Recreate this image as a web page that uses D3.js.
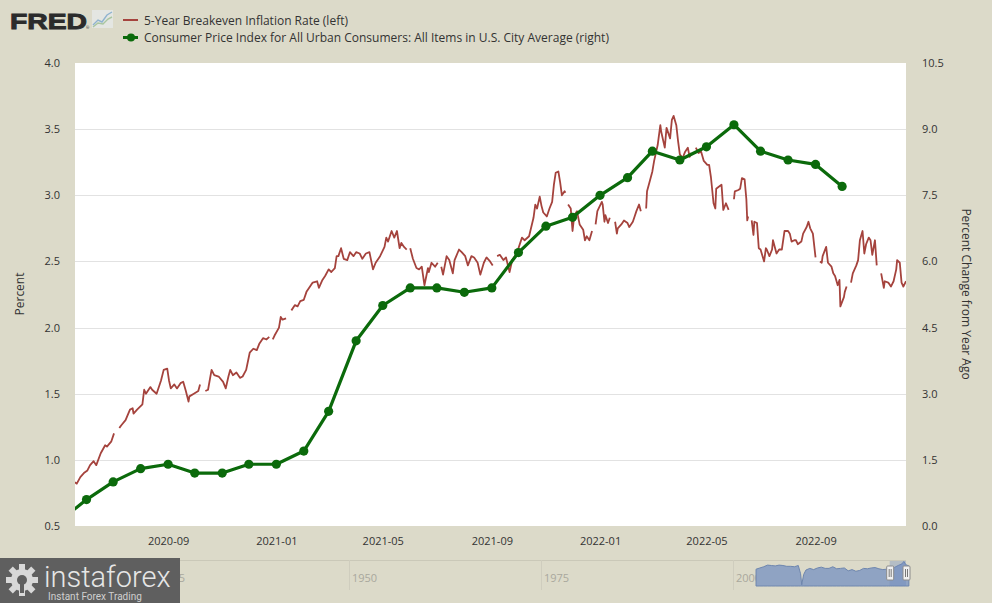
<!DOCTYPE html>
<html><head><meta charset="utf-8">
<script src="https://cdn.jsdelivr.net/npm/d3@7"></script>
<style>
html,body{margin:0;padding:0;background:#dcdac9;}
svg{display:block;font-family:"Open Sans","DejaVu Sans",sans-serif;}
</style></head><body>
<svg id="chart" width="992" height="603"></svg>
<script>
// ---------------- DATA ----------------
const cpiDates = ["2020-05-01","2020-06-01","2020-07-01","2020-08-01","2020-09-01","2020-10-01","2020-11-01","2020-12-01",
  "2021-01-01","2021-02-01","2021-03-01","2021-04-01","2021-05-01","2021-06-01","2021-07-01","2021-08-01","2021-09-01","2021-10-01","2021-11-01","2021-12-01",
  "2022-01-01","2022-02-01","2022-03-01","2022-04-01","2022-05-01","2022-06-01","2022-07-01","2022-08-01","2022-09-01","2022-10-01"];
const cpiValues = [0.1,0.6,1.0,1.3,1.4,1.2,1.2,1.4,
  1.4,1.7,2.6,4.2,5.0,5.4,5.4,5.3,5.4,6.2,6.8,7.0,
  7.5,7.9,8.5,8.3,8.6,9.1,8.5,8.3,8.2,7.7];

const breakevenSeries = [
["2020-05-19",0.83],["2020-05-21",0.82],["2020-05-25",0.87],["2020-05-29",0.90],
["2020-06-02",0.92],["2020-06-05",0.96],["2020-06-09",0.99],["2020-06-12",0.96],["2020-06-17",1.05],["2020-06-22",1.11],["2020-06-24",1.10],["2020-06-29",1.14],
["2020-07-02",1.20],["2020-07-03",null],["2020-07-08",1.24],["2020-07-10",1.26],["2020-07-15",1.30],["2020-07-20",1.38],["2020-07-23",1.39],["2020-07-24",1.35],["2020-07-28",1.38],
["2020-08-03",1.42],["2020-08-05",1.53],["2020-08-07",1.50],["2020-08-12",1.55],["2020-08-14",1.53],["2020-08-19",1.50],["2020-08-24",1.60],["2020-08-27",1.68],["2020-08-31",1.69],
["2020-09-02",1.60],["2020-09-04",1.54],["2020-09-08",1.57],["2020-09-11",1.54],["2020-09-15",1.58],["2020-09-18",1.59],["2020-09-21",1.52],["2020-09-24",1.44],["2020-09-25",1.48],["2020-09-30",1.50],
["2020-10-05",1.52],["2020-10-07",1.57],["2020-10-12",null],["2020-10-13",1.52],["2020-10-16",1.53],["2020-10-20",1.68],["2020-10-23",1.64],["2020-10-28",1.63],
["2020-11-02",1.59],["2020-11-05",1.54],["2020-11-08",1.63],["2020-11-10",1.68],["2020-11-13",1.64],["2020-11-17",1.66],["2020-11-21",1.62],["2020-11-24",1.63],["2020-11-28",1.68],
["2020-12-02",1.81],["2020-12-06",1.84],["2020-12-10",1.83],["2020-12-13",1.88],["2020-12-17",1.92],["2020-12-21",1.91],["2020-12-24",1.93],["2020-12-25",null],["2020-12-28",1.91],["2020-12-30",1.94],
["2021-01-04",2.00],["2021-01-06",2.08],["2021-01-08",2.06],["2021-01-12",2.07],["2021-01-15",null],["2021-01-18",2.13],["2021-01-22",2.17],["2021-01-25",2.16],["2021-01-28",2.20],
["2021-02-01",2.21],["2021-02-04",2.27],["2021-02-08",2.31],["2021-02-11",2.34],["2021-02-16",2.35],["2021-02-18",2.30],["2021-02-22",2.36],["2021-02-25",2.39],
["2021-03-01",2.44],["2021-03-04",2.42],["2021-03-08",2.45],["2021-03-10",2.54],["2021-03-12",2.54],["2021-03-15",2.60],["2021-03-18",2.52],["2021-03-22",2.51],["2021-03-25",2.57],["2021-03-29",2.54],
["2021-04-01",2.57],["2021-04-05",2.56],["2021-04-08",2.52],["2021-04-12",2.56],["2021-04-16",2.57],["2021-04-20",2.44],["2021-04-23",2.49],["2021-04-28",2.54],
["2021-05-03",2.61],["2021-05-05",2.68],["2021-05-07",2.65],["2021-05-11",2.73],["2021-05-14",2.68],["2021-05-17",2.73],["2021-05-20",2.60],["2021-05-22",2.64],["2021-05-25",2.61],["2021-05-28",2.59],["2021-05-31",null],
["2021-06-01",2.60],["2021-06-04",2.52],["2021-06-08",2.45],["2021-06-11",2.44],["2021-06-14",2.46],["2021-06-17",2.32],["2021-06-21",2.45],["2021-06-22",2.42],["2021-06-25",2.49],["2021-06-29",2.46],
["2021-07-02",2.49],["2021-07-05",null],["2021-07-06",2.46],["2021-07-08",2.40],["2021-07-12",2.54],["2021-07-15",2.51],["2021-07-19",2.41],["2021-07-21",2.51],["2021-07-26",2.59],["2021-07-29",2.57],
["2021-08-02",2.54],["2021-08-05",2.47],["2021-08-09",2.54],["2021-08-12",2.53],["2021-08-16",2.49],["2021-08-19",2.40],["2021-08-23",2.49],["2021-08-26",2.53],["2021-08-30",2.50],
["2021-09-02",2.47],["2021-09-06",null],["2021-09-07",2.54],["2021-09-10",2.55],["2021-09-14",2.51],["2021-09-17",2.53],["2021-09-21",2.42],["2021-09-24",2.51],["2021-09-29",2.56],
["2021-10-01",2.60],["2021-10-05",2.68],["2021-10-08",2.66],["2021-10-13",2.69],["2021-10-18",2.83],["2021-10-20",2.93],["2021-10-22",2.90],["2021-10-25",2.99],["2021-10-27",2.92],["2021-10-29",2.87],
["2021-11-02",2.84],["2021-11-05",2.90],["2021-11-08",2.95],["2021-11-10",3.08],["2021-11-12",3.17],["2021-11-15",3.18],["2021-11-17",3.10],["2021-11-19",3.00],["2021-11-22",3.03],["2021-11-23",3.02],["2021-11-25",null],["2021-11-26",2.93],["2021-11-29",2.90],
["2021-12-01",2.73],["2021-12-03",2.85],["2021-12-06",2.88],["2021-12-09",2.78],["2021-12-13",2.74],["2021-12-15",2.66],["2021-12-17",2.69],["2021-12-20",2.66],["2021-12-23",2.73],["2021-12-24",null],["2021-12-27",2.78],["2021-12-29",2.88],
["2022-01-03",2.95],["2022-01-04",2.93],["2022-01-06",2.80],["2022-01-07",2.85],["2022-01-10",2.79],["2022-01-12",2.83],["2022-01-17",null],["2022-01-18",2.80],["2022-01-20",2.71],["2022-01-21",2.75],["2022-01-25",2.78],["2022-01-28",2.81],
["2022-02-01",2.79],["2022-02-03",2.76],["2022-02-07",2.80],["2022-02-09",2.84],["2022-02-11",2.88],["2022-02-14",2.93],["2022-02-16",2.88],["2022-02-21",null],["2022-02-22",2.90],["2022-02-23",3.03],["2022-02-25",3.08],
["2022-03-01",3.18],["2022-03-03",3.26],["2022-03-07",3.38],["2022-03-08",3.43],["2022-03-10",3.53],["2022-03-11",3.48],["2022-03-15",3.36],["2022-03-17",3.51],["2022-03-21",3.43],["2022-03-23",3.57],["2022-03-25",3.60],["2022-03-28",3.53],["2022-03-30",3.41],
["2022-04-01",3.31],["2022-04-04",3.28],["2022-04-07",3.33],["2022-04-10",3.36],["2022-04-12",3.29],["2022-04-14",3.32],["2022-04-15",null],["2022-04-19",3.36],["2022-04-22",3.32],["2022-04-25",3.33],["2022-04-28",3.26],
["2022-05-02",3.23],["2022-05-04",3.23],["2022-05-06",3.14],["2022-05-09",2.94],["2022-05-11",2.90],["2022-05-12",3.05],["2022-05-16",3.07],["2022-05-18",3.08],["2022-05-20",2.89],["2022-05-23",2.94],["2022-05-26",2.89],["2022-05-30",null],
["2022-06-01",2.97],["2022-06-02",3.03],["2022-06-06",3.04],["2022-06-08",3.05],["2022-06-10",3.13],["2022-06-13",3.12],["2022-06-15",2.97],["2022-06-16",2.81],["2022-06-17",2.84],["2022-06-20",null],["2022-06-21",2.81],["2022-06-23",2.70],["2022-06-24",2.80],["2022-06-27",2.79],["2022-06-29",2.60],
["2022-07-01",2.59],["2022-07-05",2.50],["2022-07-07",2.60],["2022-07-08",2.59],["2022-07-11",2.54],["2022-07-14",2.59],["2022-07-15",2.66],["2022-07-19",2.56],["2022-07-22",2.59],["2022-07-25",2.59],["2022-07-28",2.73],
["2022-08-01",2.73],["2022-08-03",2.71],["2022-08-05",2.65],["2022-08-08",2.66],["2022-08-10",2.66],["2022-08-12",2.63],["2022-08-16",2.65],["2022-08-18",2.71],["2022-08-22",2.76],["2022-08-24",2.80],["2022-08-26",2.75],["2022-08-29",2.71],
["2022-09-01",2.53],["2022-09-05",null],["2022-09-06",2.50],["2022-09-08",2.49],["2022-09-09",2.54],["2022-09-13",2.61],["2022-09-15",2.49],["2022-09-19",2.46],["2022-09-21",2.41],["2022-09-23",2.39],["2022-09-26",2.32],["2022-09-28",2.36],["2022-09-29",2.16],
["2022-10-03",2.23],["2022-10-04",2.27],["2022-10-06",2.31],["2022-10-10",null],["2022-10-11",2.34],["2022-10-13",2.41],["2022-10-17",2.47],["2022-10-19",2.51],["2022-10-21",2.66],["2022-10-24",2.73],["2022-10-26",2.56],["2022-10-28",2.63],["2022-10-31",2.68],
["2022-11-02",2.66],["2022-11-04",2.55],["2022-11-07",2.66],["2022-11-09",2.47],["2022-11-11",null],["2022-11-14",2.41],["2022-11-17",2.30],["2022-11-18",2.35],["2022-11-22",2.34],["2022-11-25",2.31],["2022-11-28",2.35],
["2022-12-01",2.44],["2022-12-02",2.51],["2022-12-05",2.49],["2022-12-07",2.34],["2022-12-09",2.31],["2022-12-12",2.35]
];

const leftTicks = [0.5,1.0,1.5,2.0,2.5,3.0,3.5,4.0];
const rightTicks = [0.0,1.5,3.0,4.5,6.0,7.5,9.0,10.5];
const xTickDates = ["2020-09-01","2021-01-01","2021-05-01","2021-09-01","2022-01-01","2022-05-01","2022-09-01"];
const legendLabels = ["5-Year Breakeven Inflation Rate (left)",
  "Consumer Price Index for All Urban Consumers: All Items in U.S. City Average (right)"];
const leftTitle = "Percent";
const rightTitle = "Percent Change from Year Ago";
const navLabels = [1925,1950,1975,2000];
const navYears  = [2003.0,2003.5,2004.0,2004.5,2005.0,2005.5,2006.0,2006.5,2007.0,2007.5,2008.0,2008.5,2008.8,2008.95,2009.2,2009.5,2010.0,2010.5,2011.0,2011.5,2012.0,2012.5,2013.0,2013.5,2014.0,2014.5,2015.0,2015.5,2016.0,2016.5,2017.0,2017.5,2018.0,2018.5,2019.0,2019.5,2020.0,2020.25,2020.5,2020.75,2021.0,2021.5,2022.0,2022.25,2022.5,2022.9];
const navValues = [1.6,1.9,2.2,2.6,2.5,2.4,2.6,2.5,2.3,2.3,2.2,2.5,0.5,-2.2,0.3,1.4,1.8,1.5,1.9,2.1,1.8,1.8,2.2,1.7,1.8,1.9,1.2,1.5,1.1,1.3,1.8,1.7,1.9,2.0,1.7,1.5,1.6,0.2,1.2,1.6,2.0,2.5,2.9,3.5,2.7,2.4];

// ---------------- LAYOUT ----------------
const BG = "#dcdac9", RED = "#a5433d", GREEN = "#0b6a0b", TXT = "#333";
const P = {l:75, r:906, t:63, b:526};
const parse = d3.timeParse("%Y-%m-%d");
const svg = d3.select("#chart");

svg.append("rect").attr("width",992).attr("height",603).attr("fill",BG);

const x = d3.scaleTime().domain([parse("2020-05-19"), parse("2022-12-12")]).range([P.l,P.r]);
const yL = d3.scaleLinear().domain([0.5,4.0]).range([P.b,P.t]);
const yR = d3.scaleLinear().domain([0,10.5]).range([P.b,P.t]);

svg.append("rect").attr("x",P.l).attr("y",P.t).attr("width",P.r-P.l).attr("height",P.b-P.t).attr("fill","#fff");

svg.append("defs").append("clipPath").attr("id","clipx")
  .append("rect").attr("x",P.l).attr("y",P.t).attr("width",P.r-P.l).attr("height",P.b-P.t);

// gridlines
svg.append("g").selectAll("line").data(leftTicks.slice(1,-1)).join("line")
  .attr("x1",P.l).attr("x2",P.r).attr("y1",d=>Math.round(yL(d))+0.5).attr("y2",d=>Math.round(yL(d))+0.5)
  .attr("stroke","#e2e2e2").attr("stroke-width",1);

// axes
const axL = svg.append("g").attr("transform",`translate(${P.l},0)`)
  .call(d3.axisLeft(yL).tickValues(leftTicks).tickFormat(d3.format(".1f")).tickSize(0).tickPadding(15));
const axR = svg.append("g").attr("transform",`translate(${P.r},0)`)
  .call(d3.axisRight(yR).tickValues(rightTicks).tickFormat(d3.format(".1f")).tickSize(0).tickPadding(16));
const axB = svg.append("g").attr("transform",`translate(0,${P.b})`)
  .call(d3.axisBottom(x).tickValues(xTickDates.map(parse)).tickFormat(d3.timeFormat("%Y-%m")).tickSize(0).tickPadding(11));
[axL,axR,axB].forEach(a=>{
  a.select(".domain").remove();
  a.selectAll("text").attr("fill",TXT).style("font-size","11px").style("font-family",'"Open Sans","DejaVu Sans",sans-serif');
});

svg.append("text").attr("transform","translate(24,294) rotate(-90)").attr("text-anchor","middle")
  .attr("fill",TXT).style("font-size","12px").text(leftTitle);
svg.append("text").attr("transform","translate(962,294) rotate(90)").attr("text-anchor","middle")
  .attr("fill",TXT).style("font-size","12px").text(rightTitle);

// breakeven line
const be = breakevenSeries.map(d=>({date:parse(d[0]), v:d[1]}));
svg.append("path").datum(be).attr("clip-path","url(#clipx)")
  .attr("fill","none").attr("stroke",RED).attr("stroke-width",1.8).attr("stroke-linejoin","round")
  .attr("d", d3.line().defined(d=>d.v!=null).x(d=>x(d.date)).y(d=>yL(d.v)));

// CPI line + markers
const cpi = cpiDates.map((d,i)=>({date:parse(d), v:cpiValues[i]}));
const gC = svg.append("g").attr("clip-path","url(#clipx)");
gC.append("path").datum(cpi).attr("fill","none").attr("stroke",GREEN).attr("stroke-width",3.2)
  .attr("stroke-linejoin","round").attr("d", d3.line().x(d=>x(d.date)).y(d=>yR(d.v)));
gC.selectAll("circle").data(cpi).join("circle")
  .attr("cx",d=>x(d.date)).attr("cy",d=>yR(d.v)).attr("r",4.6).attr("fill",GREEN);

// ---------------- HEADER / LEGEND ----------------
svg.append("text").attr("x",10).attr("y",28.5).attr("fill","#2b2b2b").attr("stroke","#2b2b2b").attr("stroke-width",0.9)
  .attr("textLength",77).attr("lengthAdjust","spacingAndGlyphs")
  .style("font-family",'"Liberation Sans",Arial,sans-serif').style("font-weight","bold")
  .style("font-size","22px").text("FRED");
svg.append("text").attr("x",86).attr("y",29).attr("fill","#2b2b2b").style("font-size","4px").text("®");
const ic = svg.append("g").attr("transform","translate(92,10)");
ic.append("rect").attr("width",21).attr("height",18).attr("fill","#e4e6e2");
ic.append("polyline").attr("points","1,15 6,10 10,12 15,5 20,2").attr("fill","none").attr("stroke","#8fb3cf").attr("stroke-width",1.4);
ic.append("polyline").attr("points","1,17 6,13 11,14 16,9 20,7").attr("fill","none").attr("stroke","#a9c6a0").attr("stroke-width",1.4);

const lg = svg.append("g");
lg.append("line").attr("x1",123).attr("x2",138).attr("y1",20).attr("y2",20).attr("stroke",RED).attr("stroke-width",2);
lg.append("text").attr("x",144).attr("y",24.5).attr("fill",TXT).style("font-size","12px").text(legendLabels[0]);
lg.append("line").attr("x1",123).attr("x2",138).attr("y1",37.5).attr("y2",37.5).attr("stroke",GREEN).attr("stroke-width",3);
lg.append("circle").attr("cx",131).attr("cy",37.5).attr("r",4).attr("fill",GREEN);
lg.append("text").attr("x",144).attr("y",42).attr("fill",TXT).style("font-size","12px").text(legendLabels[1]);

// ---------------- NAVIGATOR ----------------
const navX = d3.scaleLinear().domain([1950,1975]).range([349,541]);
const navY = d3.scaleLinear().domain([-2.5,3.6]).range([586,561]);
const nav = svg.append("g");
nav.append("line").attr("x1",P.l).attr("x2",P.r).attr("y1",560.5).attr("y2",560.5).attr("stroke","#cac8b8");
nav.selectAll(".sep").data(navLabels).join("line").attr("class","sep")
  .attr("x1",d=>Math.round(navX(d))+0.5).attr("x2",d=>Math.round(navX(d))+0.5).attr("y1",560).attr("y2",590).attr("stroke","#cfcdbe");
nav.selectAll(".nl").data(navLabels).join("text").attr("class","nl")
  .attr("x",d=>navX(d)+3).attr("y",582).attr("fill","#a9a89d").style("font-size","11px").text(d=>d);
const navData = navYears.map((y,i)=>({y, v:navValues[i]}));
nav.append("path").datum(navData).attr("fill","#8fa3c3").attr("stroke","#6e86ae").attr("stroke-width",1)
  .attr("d", d3.area().x(d=>navX(d.y)).y0(586).y1(d=>navY(d.v)));
nav.append("rect").attr("x",navX(2020.4)).attr("y",561).attr("width",P.r-navX(2020.4)).attr("height",25)
  .attr("fill","#6a86bd").attr("opacity",0.35);
[navX(2020.4)-3, P.r-3].forEach(hx=>{
  nav.append("rect").attr("x",hx).attr("y",566).attr("width",7).attr("height",14).attr("rx",1)
    .attr("fill","#f0f0f0").attr("stroke","#8c8c8c");
  nav.append("line").attr("x1",hx+2.5).attr("x2",hx+2.5).attr("y1",569).attr("y2",577).attr("stroke","#777");
  nav.append("line").attr("x1",hx+4.5).attr("x2",hx+4.5).attr("y1",569).attr("y2",577).attr("stroke","#777");
});

// ---------------- WATERMARK ----------------
const wm = svg.append("g");
wm.append("rect").attr("x",0).attr("y",558).attr("width",180).attr("height",45).attr("fill","#5f5f5f");
const gear = wm.append("g").attr("transform","translate(22,580)");
for(let k=0;k<8;k++){
  gear.append("rect").attr("x",-3).attr("y",-16).attr("width",6).attr("height",8).attr("fill","#d8d8d8")
    .attr("transform",`rotate(${k*45})`);
}
gear.append("circle").attr("r",11).attr("fill","#d8d8d8");
gear.append("circle").attr("r",5).attr("fill","#5f5f5f");
gear.append("rect").attr("x",-2).attr("y",-3).attr("width",4).attr("height",16).attr("fill","#5f5f5f");
wm.append("text").attr("x",44).attr("y",587).attr("fill","#e6e6e6")
  .style("font-family","Roboto, sans-serif").style("font-weight","300").style("font-size","29px").text("instaforex");
wm.append("text").attr("x",48).attr("y",600).attr("fill","#d0d0d0")
  .style("font-family","Roboto, sans-serif").style("font-size","10px").text("Instant Forex Trading");
</script>
</body></html>
